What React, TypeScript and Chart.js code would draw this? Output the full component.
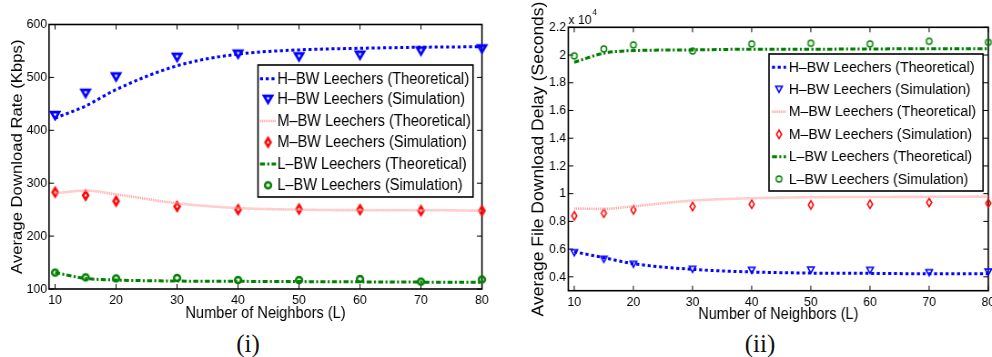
import React, { useEffect, useRef } from "react";
import { Chart, registerables } from "chart.js";

Chart.register(...registerables);

// ---------- data ----------
const neighbors = [10, 15, 20, 30, 40, 50, 60, 70, 80];
const xTickValues = [10, 20, 30, 40, 50, 60, 70, 80];

const rateTickValues = [100, 200, 300, 400, 500, 600];
const rateHTheory = [423, 446, 477, 522, 544, 552, 555, 557, 558];
const rateHSim = [428, 470, 501, 538, 544, 539, 542, 550, 554];
const rateMTheory = [281, 286, 279, 262, 253, 250, 249, 249, 248];
const rateMSim = [283, 277, 266, 256, 250, 251, 250, 248, 248];
const rateLTheory = [131, 120, 117, 115, 114.5, 114, 113.5, 113, 112.5];
const rateLSim = [131, 122, 120, 121, 117, 117, 119, 114, 118];

const delayTickValues = [4000, 6000, 8000, 10000, 12000, 14000, 16000, 18000, 20000, 22000];
const delayHTheory = [5810, 5380, 4950, 4540, 4350, 4270, 4250, 4220, 4230];
const delayHSim = [5740, 5260, 4900, 4540, 4470, 4490, 4470, 4300, 4350];
const delayMTheory = [8930, 8900, 9090, 9500, 9670, 9740, 9760, 9770, 9790];
const delayMSim = [8400, 8590, 8830, 9070, 9240, 9190, 9240, 9360, 9310];
const delayLTheory = [19480, 20130, 20320, 20370, 20420, 20420, 20440, 20450, 20460];
const delayLSim = [19940, 20440, 20730, 20290, 20800, 20850, 20800, 20990, 20920];

const legendLabels = [
  "H\u2013BW Leechers (Theoretical)",
  "H\u2013BW Leechers (Simulation)",
  "M\u2013BW Leechers (Theoretical)",
  "M\u2013BW Leechers (Simulation)",
  "L\u2013BW Leechers (Theoretical)",
  "L\u2013BW Leechers (Simulation)",
];

const xTitle = "Number of Neighbors (L)";
const rateTitle = "Average Download Rate (Kbps)";
const delayTitle = "Average File Download Delay (Seconds)";

// ---------- styling ----------
const SX = 0.91; // horizontal squeeze of the reference
const FONT = "'Liberation Sans', Arial, Helvetica, sans-serif";
const TEXT = "#000";
const BLUE = "#0000ff";
const RED = "#ff0000";
const PINK = "#ff9c9c";
const GREEN = "#008000";

type MarkerSpec = { w: number; h: number; lw: number };

function markerCanvas(shape: string, spec: MarkerSpec, color: string) {
  const w = (spec.w - spec.lw * SX) / SX;
  const h = spec.h - spec.lw;
  const pad = Math.ceil(spec.lw) + 1;
  const c = document.createElement("canvas");
  c.width = Math.ceil(w + 2 * pad);
  c.height = Math.ceil(h + 2 * pad);
  const g = c.getContext("2d")!;
  g.strokeStyle = color;
  g.lineWidth = spec.lw;
  g.lineJoin = "miter";
  const cx = c.width / 2;
  const cy = c.height / 2;
  g.beginPath();
  if (shape === "tri") {
    g.moveTo(cx - w / 2, cy - h / 2);
    g.lineTo(cx + w / 2, cy - h / 2);
    g.lineTo(cx, cy + h / 2);
    g.closePath();
  } else if (shape === "diamond") {
    g.moveTo(cx, cy - h / 2);
    g.lineTo(cx + w / 2, cy);
    g.lineTo(cx, cy + h / 2);
    g.lineTo(cx - w / 2, cy);
    g.closePath();
  } else {
    g.ellipse(cx, cy, w / 2, h / 2, 0, 0, Math.PI * 2);
  }
  g.stroke();
  return c;
}

type Panel = {
  left: number;
  width: number;
  height: number;
  area: { l: number; r: number; t: number; b: number };
  xMin: number;
  xMax: number;
  yMin: number;
  yMax: number;
  yTicks: number[];
  yFmt: (v: number) => string;
  yTitle: string;
  yTitleSize: number;
  yTitleCenter: number;
  xTitleCenterY: number;
  xTickPad: number;
  yTickPad: number;
  series: number[][];
  markers: { tri: MarkerSpec; diamond: MarkerSpec; circle: MarkerSpec };
  legend: {
    l: number; r: number; t: number; b: number;
    rows: number[]; sampleL: number; sampleR: number; textX: number; font: number;
  };
  exponent: boolean;
};

const panels: Panel[] = [
  {
    left: 0,
    width: 496,
    height: 330,
    area: { l: 49, r: 482, t: 24.5, b: 289 },
    xMin: 9,
    xMax: 80,
    yMin: 100,
    yMax: 600,
    yTicks: rateTickValues,
    yFmt: (v) => String(v),
    yTitle: rateTitle,
    yTitleSize: 16.7,
    yTitleCenter: 17.7,
    xTitleCenterY: 314,
    xTickPad: 3,
    yTickPad: 2,
    series: [rateHTheory, rateHSim, rateMTheory, rateMSim, rateLTheory, rateLSim],
    markers: {
      tri: { w: 10.5, h: 9.5, lw: 2.7 },
      diamond: { w: 7.5, h: 11, lw: 2.6 },
      circle: { w: 8.5, h: 8.5, lw: 2.5 },
    },
    legend: {
      l: 258, r: 473, t: 65, b: 197,
      rows: [78.7, 99.3, 121, 142.3, 164, 185.3],
      sampleL: 260, sampleR: 276, textX: 277.3, font: 16,
    },
    exponent: false,
  },
  {
    left: 496,
    width: 506,
    height: 330,
    area: { l: 568.3, r: 988.3, t: 27.3, b: 290.7 },
    xMin: 9,
    xMax: 80,
    yMin: 3000,
    yMax: 22000,
    yTicks: delayTickValues,
    yFmt: (v) => String(Number((v / 10000).toFixed(1))),
    yTitle: delayTitle,
    yTitleSize: 17.5,
    yTitleCenter: 539.3,
    xTitleCenterY: 315,
    xTickPad: 3.5,
    yTickPad: 2.5,
    series: [delayHTheory, delayHSim, delayMTheory, delayMSim, delayLTheory, delayLSim],
    markers: {
      tri: { w: 8, h: 7.5, lw: 1.5 },
      diamond: { w: 6.5, h: 10, lw: 1.5 },
      circle: { w: 7, h: 7.5, lw: 1.5 },
    },
    legend: {
      l: 769, r: 983, t: 54, b: 191,
      rows: [67.3, 89.3, 111.7, 134.3, 156.7, 179],
      sampleL: 772, sampleR: 786, textX: 788.7, font: 15.5,
    },
    exponent: true,
  },
];

const lineStyles = [
  { color: BLUE, width: 3, dash: [3.3, 3] },
  { color: PINK, width: 2.6, dash: [1, 1] },
  { color: GREEN, width: 3, dash: [5.5, 2.5, 2.2, 2.5] },
];

function buildChart(canvas: HTMLCanvasElement, p: Panel) {
  const ix = (vx: number) => (vx - p.left) / SX;
  const W = p.width / SX;
  const H = p.height;
  const areaLeft = ix(p.area.l);
  const rightPad = W - ix(p.area.r);
  const xAxisHeight = H - p.area.b;

  const mk = {
    tri: markerCanvas("tri", p.markers.tri, BLUE),
    diamond: markerCanvas("diamond", p.markers.diamond, RED),
    circle: markerCanvas("circle", p.markers.circle, GREEN),
  };
  const markerList = [mk.tri, mk.diamond, mk.circle];

  const toPts = (arr: number[]) => neighbors.map((x, i) => ({ x, y: arr[i] }));

  const datasets: any[] = [];
  for (let k = 0; k < 3; k++) {
    const ls = lineStyles[k];
    datasets.push({
      label: legendLabels[k * 2],
      data: toPts(p.series[k * 2]),
      showLine: true,
      borderColor: ls.color,
      borderWidth: ls.width,
      borderDash: ls.dash,
      borderCapStyle: "butt",
      pointRadius: 0,
      cubicInterpolationMode: "monotone",
      fill: false,
      clip: false,
    });
    datasets.push({
      label: legendLabels[k * 2 + 1],
      data: toPts(p.series[k * 2 + 1]),
      showLine: false,
      pointStyle: markerList[k],
      pointRadius: 5,
      borderColor: ls.color,
      backgroundColor: "transparent",
      clip: false,
    });
  }

  const framePlugin = {
    id: "frame",
    beforeDatasetsDraw(chart: any) {
      const { ctx, chartArea } = chart;
      const { left, right, top, bottom } = chartArea;
      const xs = chart.scales.x;
      const ys = chart.scales.y;
      ctx.save();
      ctx.strokeStyle = "#000";
      ctx.lineWidth = 1;
      const tlx = 5 / SX;
      const tly = 5;
      ctx.beginPath();
      xTickValues.forEach((v) => {
        const px = xs.getPixelForValue(v);
        ctx.moveTo(px, bottom);
        ctx.lineTo(px, bottom - tly);
        ctx.moveTo(px, top);
        ctx.lineTo(px, top + tly);
      });
      p.yTicks.forEach((v) => {
        const py = ys.getPixelForValue(v);
        ctx.moveTo(left, py);
        ctx.lineTo(left + tlx, py);
        ctx.moveTo(right, py);
        ctx.lineTo(right - tlx, py);
      });
      ctx.stroke();
      ctx.lineWidth = 1.6;
      ctx.strokeRect(left, top, right - left, bottom - top);
      if (p.exponent) {
        ctx.fillStyle = TEXT;
        ctx.font = `13.5px ${FONT}`;
        ctx.textBaseline = "middle";
        ctx.textAlign = "left";
        const t = "x 10";
        ctx.fillText(t, left, 20);
        const w = ctx.measureText(t).width;
        ctx.font = `9px ${FONT}`;
        ctx.fillText("4", left + w + 1, 13);
      }
      ctx.restore();
    },
  };

  const legendPlugin = {
    id: "boxLegend",
    afterDraw(chart: any) {
      const { ctx } = chart;
      const L = p.legend;
      ctx.save();
      ctx.fillStyle = "#fff";
      ctx.fillRect(ix(L.l), L.t, ix(L.r) - ix(L.l), L.b - L.t);
      ctx.strokeStyle = "#000";
      ctx.lineWidth = 1.6;
      ctx.strokeRect(ix(L.l), L.t, ix(L.r) - ix(L.l), L.b - L.t);
      for (let i = 0; i < 6; i++) {
        const y = L.rows[i];
        const k = Math.floor(i / 2);
        if (i % 2 === 0) {
          const ls = lineStyles[k];
          ctx.save();
          ctx.strokeStyle = ls.color;
          ctx.lineWidth = ls.width;
          ctx.setLineDash(ls.dash);
          ctx.lineCap = "butt";
          ctx.beginPath();
          ctx.moveTo(ix(L.sampleL), y);
          ctx.lineTo(ix(L.sampleR), y);
          ctx.stroke();
          ctx.restore();
        } else {
          const m = markerList[k];
          const cx = (ix(L.sampleL) + ix(L.sampleR)) / 2;
          ctx.drawImage(m, cx - m.width / 2, y - m.height / 2);
        }
        ctx.fillStyle = TEXT;
        ctx.font = `${L.font}px ${FONT}`;
        ctx.textBaseline = "middle";
        ctx.textAlign = "left";
        ctx.fillText(legendLabels[i], ix(L.textX), y + 0.5);
      }
      ctx.restore();
    },
  };

  const yTitleLH = p.yTitleSize * 1.2;
  const xTitleSize = 16;
  const xTitleLH = xTitleSize * 1.2;

  return new Chart(canvas, {
    type: "line",
    data: { datasets },
    options: {
      animation: false,
      responsive: false,
      devicePixelRatio: 1,
      events: [],
      layout: { padding: { top: p.area.t, right: rightPad, bottom: 0, left: 0 } },
      plugins: {
        legend: { display: false },
        tooltip: { enabled: false },
        title: { display: false },
      },
      scales: {
        x: {
          type: "linear",
          min: p.xMin,
          max: p.xMax,
          grid: { display: false, drawTicks: false },
          border: { display: false },
          afterBuildTicks: (s: any) => {
            s.ticks = xTickValues.map((v) => ({ value: v }));
          },
          afterFit: (s: any) => {
            s.height = xAxisHeight;
          },
          ticks: {
            autoSkip: false,
            maxRotation: 0,
            padding: p.xTickPad,
            color: TEXT,
            font: { family: FONT, size: 13.5 },
            callback: (v: any) => String(v),
          },
          title: {
            display: true,
            text: xTitle,
            color: TEXT,
            font: { family: FONT, size: xTitleSize },
            padding: { top: 0, bottom: H - p.xTitleCenterY - xTitleLH / 2 },
          },
        },
        y: {
          type: "linear",
          min: p.yMin,
          max: p.yMax,
          grid: { display: false, drawTicks: false },
          border: { display: false },
          afterBuildTicks: (s: any) => {
            s.ticks = p.yTicks.map((v) => ({ value: v }));
          },
          afterFit: (s: any) => {
            s.width = areaLeft;
          },
          ticks: {
            autoSkip: false,
            padding: p.yTickPad,
            color: TEXT,
            font: { family: FONT, size: 13.5 },
            callback: (v: any) => p.yFmt(Number(v)),
          },
          title: {
            display: true,
            text: p.yTitle,
            color: TEXT,
            font: { family: FONT, size: p.yTitleSize },
            padding: { top: ix(p.yTitleCenter) - yTitleLH / 2, bottom: 0 },
          },
        },
      },
    } as any,
    plugins: [framePlugin, legendPlugin],
  });
}

function PanelCanvas({ p }: { p: Panel }) {
  const ref = useRef<HTMLCanvasElement | null>(null);
  useEffect(() => {
    if (!ref.current) return;
    const chart = buildChart(ref.current, p);
    return () => chart.destroy();
  }, [p]);
  const W = Math.round(p.width / SX);
  return (
    <canvas
      ref={ref}
      width={W}
      height={p.height}
      style={{
        position: "absolute",
        left: p.left,
        top: 0,
        width: W,
        height: p.height,
        transform: `scaleX(${SX})`,
        transformOrigin: "0 0",
      }}
    />
  );
}

const captionStyle: React.CSSProperties = {
  position: "absolute",
  top: 331,
  width: 100,
  textAlign: "center",
  fontFamily: "'Liberation Serif', 'Times New Roman', serif",
  fontSize: 25,
  lineHeight: "25px",
  color: "#111",
};

export default function App() {
  return (
    <div
      style={{
        position: "fixed",
        left: 0,
        top: 0,
        width: 992,
        height: 357,
        overflow: "hidden",
        background: "#fff",
      }}
    >
      <PanelCanvas p={panels[0]} />
      <PanelCanvas p={panels[1]} />
      <div style={{ ...captionStyle, left: 248 - 50 }}>(i)</div>
      <div style={{ ...captionStyle, left: 760 - 50 }}>(ii)</div>
    </div>
  );
}
